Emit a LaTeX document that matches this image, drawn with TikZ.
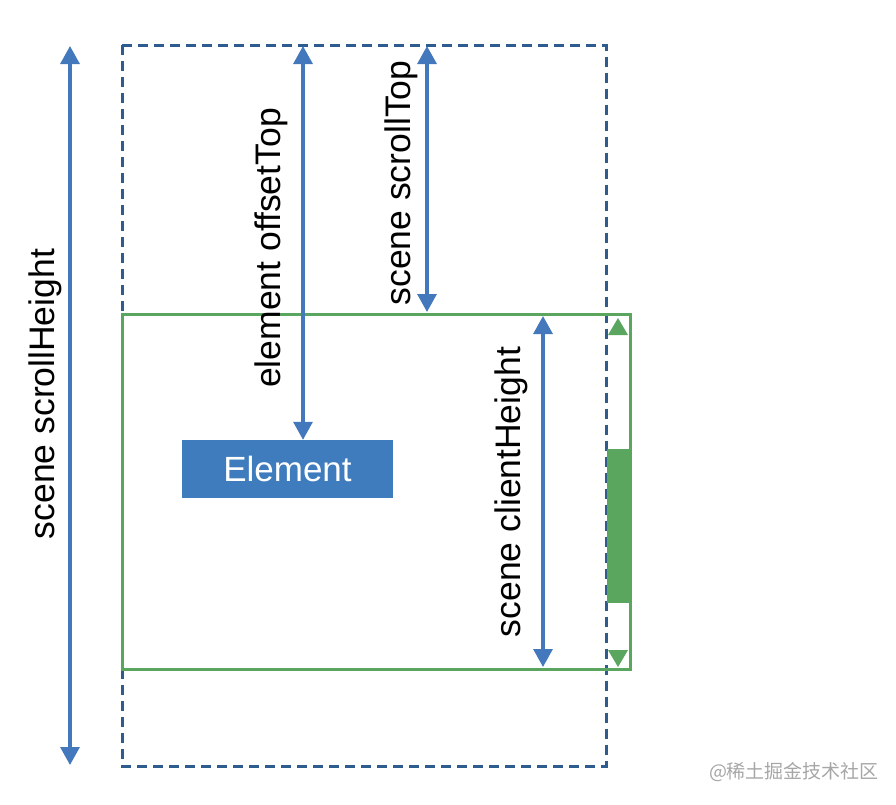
\documentclass[tikz,border=0pt]{standalone}
\usepackage{fontspec}
\setmainfont{Liberation Sans}
\newfontfamily\cjk{Noto Sans CJK SC}
\usetikzlibrary{arrows.meta}
\definecolor{arrowblue}{HTML}{4379BC}
\definecolor{dashblue}{HTML}{2F5C8F}
\definecolor{sgreen}{HTML}{5AA65E}
\definecolor{boxblue}{HTML}{3F7CBE}
\tikzset{
  x=1pt, y=-1pt,
  dim/.style={draw=arrowblue, line width=3.2pt, {Triangle[width=19pt,length=18pt]}-{Triangle[width=19pt,length=18pt]}},
  lbl/.style={rotate=90, font=\fontsize{35.5}{35.5}\selectfont, text=black, inner sep=0pt},
}
\begin{document}
\begin{tikzpicture}
\useasboundingbox (0,0) rectangle (896,804);
% scroll area (dashed)
\draw[dashblue, line width=3pt, dash pattern=on 10pt off 6pt] (122,45) rectangle (606,766);
% client area (green)
\draw[sgreen, line width=3pt] (122,314) rectangle (630,669);
% scrollbar
\fill[sgreen] (607,449) rectangle (630,603);
\fill[sgreen] (618,318) -- (628,335) -- (608,335) -- cycle;
\fill[sgreen] (618,667) -- (628,650) -- (608,650) -- cycle;
% coordinates
\coordinate (shT) at (70,46);
\coordinate (shB) at (70,765);
\coordinate (otT) at (303,46);
\coordinate (stT) at (427,46);
\coordinate (stB) at (427,312);
\coordinate (chT) at (543,316);
\coordinate (chB) at (543,667);
% element
\node[fill=boxblue, minimum width=211pt, minimum height=58pt, inner sep=0pt, text=white, font=\fontsize{35}{35}\selectfont] (el) at (287.5,469) {Element};
% dimension arrows
\draw[dim] (shT) -- (shB);
\draw[dim] (otT) -- (el.north -| otT);
\draw[dim] (stT) -- (stB);
\draw[dim] (chT) -- (chB);
% labels
\node[lbl] (l1) at (45,394) {scene scrollHeight};
\node[lbl] (l2) at (271,248) {element offsetTop};
\node[lbl] (l3) at (401,183) {scene scrollTop};
\node[lbl] (l4) at (511,492) {scene clientHeight};
% watermark
\node[text=black!35, font=\cjk\fontsize{19}{19}\selectfont, inner sep=0pt] (wm) at (794,772) {@稀土掘金技术社区};
\end{tikzpicture}
\end{document}
